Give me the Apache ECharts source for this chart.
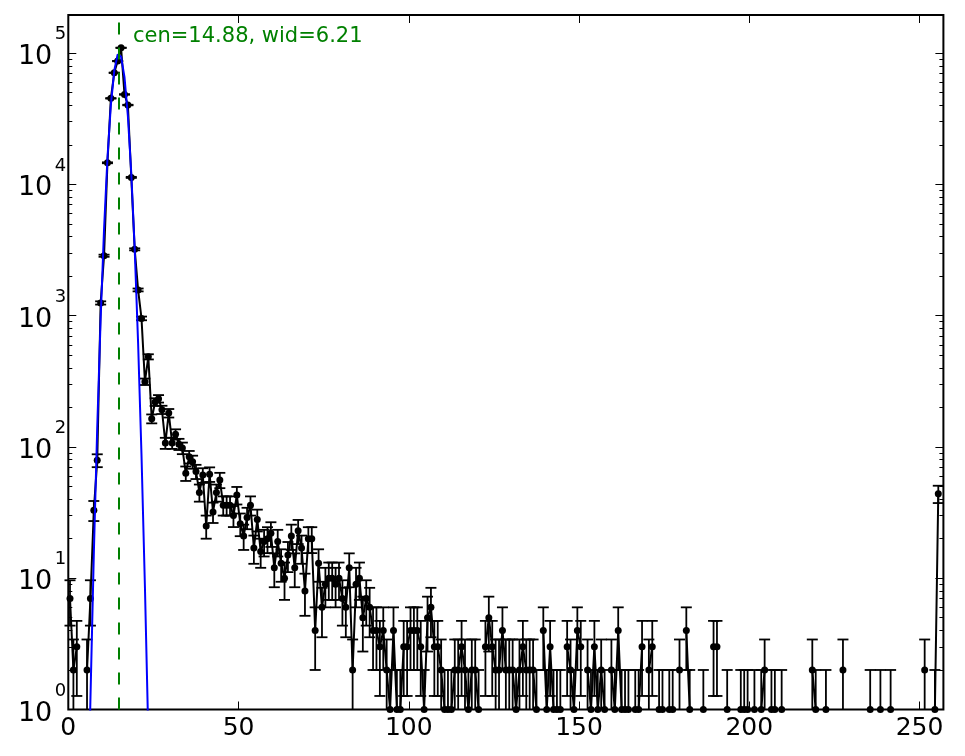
<!DOCTYPE html>
<html>
<head>
<meta charset="utf-8">
<script src="https://cdn.jsdelivr.net/npm/echarts@6/dist/echarts.min.js"></script>
<style>
html,body{margin:0;padding:0;background:#fff;}
#chart{width:965px;height:756px;}
</style>
</head>
<body>
<div id="chart"></div>
<script>
// ---- data ----
const binWidth = 1;
const counts = [
  7, 2, 3, 0, 0, 2, 7, 33, 79, 1250,
  2860, 14600, 45200, 70800, 86900, 109700, 48400, 40200, 11300, 3200,
  1570, 953, 314, 486, 164, 220, 233, 192, 107, 181,
  107, 125, 105, 98, 63, 84, 77, 65, 45, 61,
  25, 62, 32, 45, 56, 36, 36, 36, 30, 43,
  26, 21, 29, 36, 17, 28, 16, 19, 20, 22,
  12, 19, 13, 10, 15, 21, 12, 23, 17, 8,
  20, 20, 4, 13, 6, 9, 10, 10, 9, 10,
  7, 6, 12, 2, 9, 10, 5, 7, 6, 4,
  4, 3, 4, 2, 1, 4, 1, 1, 3, 3,
  4, 4, 4, 3, 1, 5, 6, 3, 3, 2,
  1, 1, 1, 2, 2, 3, 2, 1, 2, 2,
  1, 0, 3, 5, 3, 2, 2, 4, 2, 2,
  2, 1, 2, 3, 2, 2, 2, 1, 0, 4,
  1, 3, 1, 1, 1, 0, 3, 2, 1, 4,
  3, 0, 2, 1, 3, 1, 2, 1, 0, 2,
  1, 4, 1, 1, 1, 0, 1, 1, 3, 0,
  2, 3, 0, 1, 1, 0, 1, 1, 0, 2,
  0, 4, 1, 0, 0, 0, 1, 0, 0, 3,
  3, 0, 0, 1, 0, 0, 0, 1, 1, 1,
  0, 1, 0, 1, 2, 0, 1, 1, 0, 1,
  0, 0, 0, 0, 0, 0, 0, 0, 2, 1,
  0, 0, 1, 0, 0, 0, 0, 2, 0, 0,
  0, 0, 0, 0, 0, 1, 0, 0, 1, 0,
  0, 1, 0, 0, 0, 0, 0, 0, 0, 0,
  0, 2, 0, 0, 1, 44
];
// fitted curve
const fitX = [5.5, 6.5, 7.5, 8.5, 9.5, 10.5, 11.5, 12.5, 13.5, 14.5, 15.5, 16.5, 17.5, 18.5, 19.5, 20.5, 21.5, 22.5, 23.5, 24.5];
const fitY = [0.07, 1.2, 15.5, 142, 946, 4560, 15900, 40200, 73600, 97700, 94000, 65500, 33100, 12100, 3220, 618, 86, 8.7, 0.64, 0.02];
const fitCenter = 14.88;
const fitWidth = 6.21;
const xTicks = [0, 50, 100, 150, 200, 250];
const yMajor = [1, 10, 100, 1000, 10000, 100000];
const xMin = 0, xMax = 257;
const yMin = 1, yMax = 195000;

// ---- derived ----
const yMinor = [];
for (let k = 0; k < 6; k++) {
  for (let m = 2; m <= 9; m++) {
    const v = m * Math.pow(10, k);
    if (v < yMax) yMinor.push(v);
  }
}
const pointData = counts.map((c, i) => [i * binWidth + binWidth / 2, c > 0 ? c : null]);
const errData = [];
counts.forEach((c, i) => {
  if (c > 0) {
    const e = Math.sqrt(c);
    errData.push([i * binWidth + binWidth / 2, c, c - e, c + e]);
  }
});
const fitData = fitX.map((x, i) => [x, fitY[i]]);

const FONT = 'DejaVu Sans';
const chart = echarts.init(document.getElementById('chart'), null, {renderer: 'canvas'});

function logAxis(pos, tickVals, tickLen, labelOpt) {
  return {
    type: 'log', logBase: 10, min: yMin, max: yMax, position: pos,
    axisLine: {show: false},
    splitLine: {show: false},
    minorTick: {show: false},
    axisTick: {show: true, inside: true, length: tickLen, customValues: tickVals,
      lineStyle: {color: '#000', width: 1}},
    axisLabel: labelOpt || {show: false}
  };
}

const option = {
  animation: false,
  backgroundColor: '#fff',
  grid: {left: 68.3, right: 21.6, top: 15, bottom: 46.5, show: true,
    borderColor: '#000', borderWidth: 2, backgroundColor: 'transparent'},
  xAxis: [
    {type: 'value', min: xMin, max: xMax, interval: 50, position: 'bottom',
      axisLine: {show: false}, splitLine: {show: false},
      axisTick: {show: true, inside: true, length: 8, customValues: xTicks, lineStyle: {color: '#000', width: 1}},
      axisLabel: {customValues: xTicks, fontSize: 25, fontFamily: FONT, color: '#000', margin: 6}},
    {type: 'value', min: xMin, max: xMax, interval: 50, position: 'top',
      axisLine: {show: false}, splitLine: {show: false},
      axisTick: {show: true, inside: true, length: 8, customValues: xTicks, lineStyle: {color: '#000', width: 1}},
      axisLabel: {show: false}}
  ],
  yAxis: [
    logAxis('left', yMajor, 8, {customValues: yMajor, formatter: () => '10', fontSize: 27,
      fontFamily: FONT, color: '#000', margin: 16, verticalAlign: 'top', lineHeight: 8}),
    logAxis('left', yMinor, 4, {customValues: yMajor,
      formatter: (v) => String(Math.round(Math.log10(v))), fontSize: 18,
      fontFamily: FONT, color: '#000', margin: 2, verticalAlign: 'bottom', lineHeight: 37}),
    logAxis('right', yMajor, 8),
    logAxis('right', yMinor, 4)
  ],
  series: [
    {
      type: 'custom', name: 'err', xAxisIndex: 0, yAxisIndex: 0, z: 2,
      data: errData, encode: {x: 0, y: 1},
      renderItem: function (params, api) {
        const x = api.value(0), y = api.value(1), lo = api.value(2), hi = api.value(3);
        const cs = params.coordSys;
        const top = cs.y, bot = cs.y + cs.height;
        const p = api.coord([x, y]);
        const pHi = api.coord([x, hi]);
        const loY = lo > 0 ? api.coord([x, lo])[1] : Infinity;
        const pL = api.coord([x - binWidth / 2, y]);
        const pR = api.coord([x + binWidth / 2, y]);
        const cap = 5.5;
        const st = {stroke: '#000', lineWidth: 1.8};
        const ch = [];
        ch.push({type: 'line', shape: {x1: p[0], y1: Math.max(top, pHi[1]), x2: p[0], y2: Math.min(bot, loY)}, style: st});
        if (pHi[1] >= top) ch.push({type: 'line', shape: {x1: p[0] - cap, y1: pHi[1], x2: p[0] + cap, y2: pHi[1]}, style: st});
        if (loY <= bot) ch.push({type: 'line', shape: {x1: p[0] - cap, y1: loY, x2: p[0] + cap, y2: loY}, style: st});
        ch.push({type: 'line', shape: {x1: pL[0], y1: pL[1], x2: pR[0], y2: pR[1]}, style: st});
        return {type: 'group', children: ch};
      }
    },
    {
      type: 'line', name: 'counts', xAxisIndex: 0, yAxisIndex: 0, z: 3,
      data: pointData, connectNulls: false,
      symbol: 'circle', symbolSize: 7, showSymbol: true,
      itemStyle: {color: '#000'},
      lineStyle: {color: '#000', width: 2},
      clip: true
    },
    {
      type: 'line', name: 'fit', xAxisIndex: 0, yAxisIndex: 0, z: 4,
      data: fitData, showSymbol: false, symbol: 'none',
      lineStyle: {color: '#0000ff', width: 2},
      clip: true,
      markLine: {
        silent: true, symbol: ['none', 'none'], label: {show: false},
        lineStyle: {color: '#008000', width: 2, type: [12, 13]},
        data: [{xAxis: fitCenter}]
      }
    }
  ],
  graphic: [
    {type: 'text', left: 133, top: 26, z: 10,
      style: {text: 'cen=' + fitCenter.toFixed(2) + ', wid=' + fitWidth.toFixed(2),
        fill: '#008000', font: '21px "DejaVu Sans"'}}
  ]
};
chart.setOption(option);
</script>
</body>
</html>
